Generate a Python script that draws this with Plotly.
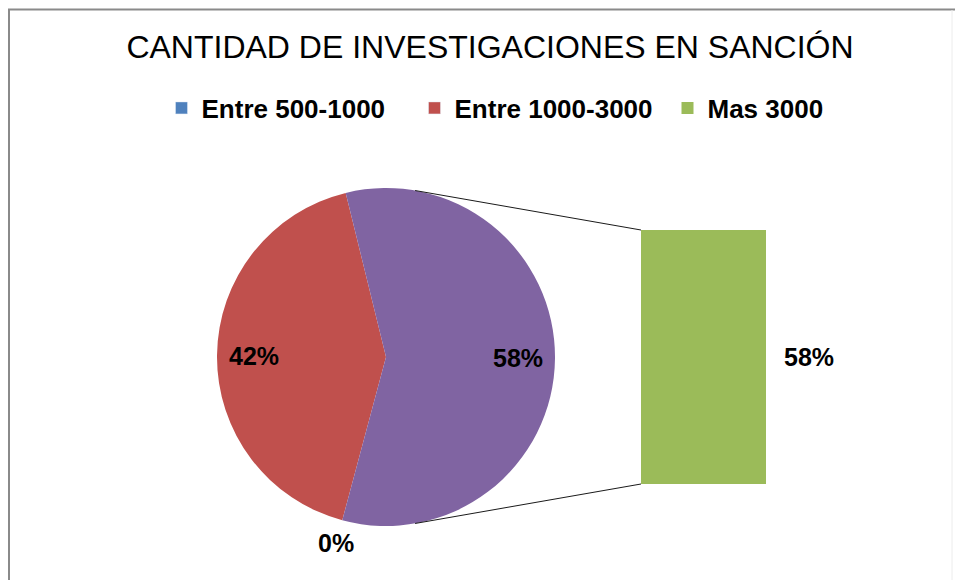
import math
import plotly.graph_objects as go

# datos
categorias = ["Entre 500-1000", "Entre 1000-3000", "Mas 3000"]
porcentajes = [0, 42, 58]
en_barra = [False, False, True]   # puntos que van a la barra secundaria
titulo = "CANTIDAD DE INVESTIGACIONES EN SANCIÓN"

colores = ["#4F81BD", "#C0504D", "#9BBB59"]
color_otro = "#8064A2"
FONT = "Liberation Sans, Arial, sans-serif"

W, H = 963, 580
OFF = 8  # margen del body de la pagina html
def fx(px): return (px - OFF) / W
def fy(py): return 1 - (py - OFF) / H

# geometria (pixeles de la imagen)
cx, cy, r = 386, 357, 169
bar_x0, bar_x1, bar_top, bar_bot = 641, 766, 230, 484
rotacion = 195

# tarta: puntos fuera de la barra + porcion "otro"
pie_labels = [c for c, b in zip(categorias, en_barra) if not b] + ["Otro"]
pie_vals = [v for v, b in zip(porcentajes, en_barra) if not b]
pie_vals.append(sum(v for v, b in zip(porcentajes, en_barra) if b))
pie_cols = [c for c, b in zip(colores, en_barra) if not b] + [color_otro]

bar_cats = [c for c, b in zip(categorias, en_barra) if b]
bar_vals = [v for v, b in zip(porcentajes, en_barra) if b]
bar_cols = [c for c, b in zip(colores, en_barra) if b]

fig = go.Figure()
fig.add_trace(go.Pie(
    labels=pie_labels, values=pie_vals, sort=False, direction="clockwise",
    rotation=rotacion, marker=dict(colors=pie_cols, line=dict(width=0)),
    textinfo="none", hoverinfo="label+percent", showlegend=False,
    domain=dict(x=[fx(cx - r), fx(cx + r)], y=[fy(cy + r), fy(cy - r)]),
))

# entradas de leyenda para los puntos de la tarta
for c, col, b in zip(categorias, colores, en_barra):
    if not b:
        fig.add_trace(go.Bar(x=[None], y=[None], name=c, marker_color=col,
                             showlegend=True, hoverinfo="skip"))

fig.add_trace(go.Bar(x=bar_cats, y=bar_vals, name=bar_cats[0], width=1,
                     marker=dict(color=bar_cols, line=dict(width=0))))

lbl_font = dict(family=FONT, size=25, color="black", weight="bold")

# etiquetas de la tarta
total = sum(pie_vals)
ang = rotacion
for v in pie_vals:
    span = 360 * v / total
    mid = math.radians(ang + span / 2)
    k = 1.14 if v == 0 else 0.78
    tx = cx + k * r * math.sin(mid)
    ty = cy - k * r * math.cos(mid)
    fig.add_annotation(x=fx(tx), y=fy(ty), xref="paper", yref="paper",
                       xanchor="center", yanchor="middle",
                       text=f"{v}%", showarrow=False, font=lbl_font)
    ang += span

# etiqueta de la barra
for c, v in zip(bar_cats, bar_vals):
    fig.add_annotation(x=0.5, y=v / 2, xref="x", yref="y", text=f"{v}%",
                       showarrow=False, xanchor="left", yanchor="middle", xshift=16,
                       font=lbl_font)

# lineas de conexion tangentes a la tarta
def tangente(px, py, lado):
    dx, dy = px - cx, py - cy
    d = math.hypot(dx, dy)
    phi = math.atan2(dx, -dy)
    t = phi + lado * math.acos(r / d)
    return cx + r * math.sin(t), cy - r * math.cos(t)

for py, lado in [(bar_top, -1), (bar_bot, 1)]:
    tx, ty = tangente(bar_x0, py, lado)
    fig.add_shape(type="line", xref="paper", yref="paper",
                  x0=fx(tx), y0=fy(ty), x1=fx(bar_x0), y1=fy(py),
                  line=dict(color="#1a1a1a", width=1))

# marco del grafico
fig.add_shape(type="rect", xref="paper", yref="paper",
              x0=fx(9), y0=-0.05, x1=1.05, y1=fy(9.5),
              line=dict(color="#8a8a8a", width=2), layer="below")
fig.add_shape(type="line", xref="paper", yref="paper",
              x0=fx(952), y0=0, x1=fx(952), y1=fy(10),
              line=dict(color="#ececec", width=1), layer="below")

fig.update_layout(
    width=W, height=H,
    margin=dict(l=0, r=0, t=0, b=0),
    paper_bgcolor="white", plot_bgcolor="rgba(0,0,0,0)",
    title=dict(text=titulo, x=fx(490), y=fy(47), xanchor="center", yanchor="middle",
               font=dict(family=FONT, size=32, color="black")),
    legend=dict(orientation="h", x=fx(541), y=fy(108), xanchor="center", yanchor="middle",
                font=dict(family=FONT, size=26, color="black", weight="bold"),
                entrywidth=208, bgcolor="rgba(0,0,0,0)", traceorder="normal"),
    xaxis=dict(type="category", domain=[fx(bar_x0), fx(bar_x1)], range=[-0.5, 0.5],
               visible=False, fixedrange=True),
    yaxis=dict(domain=[fy(bar_bot), fy(bar_top)], range=[0, bar_vals[0]], visible=False,
               fixedrange=True),
    barmode="overlay",
    showlegend=True,
)

fig.write_html("out.html")
